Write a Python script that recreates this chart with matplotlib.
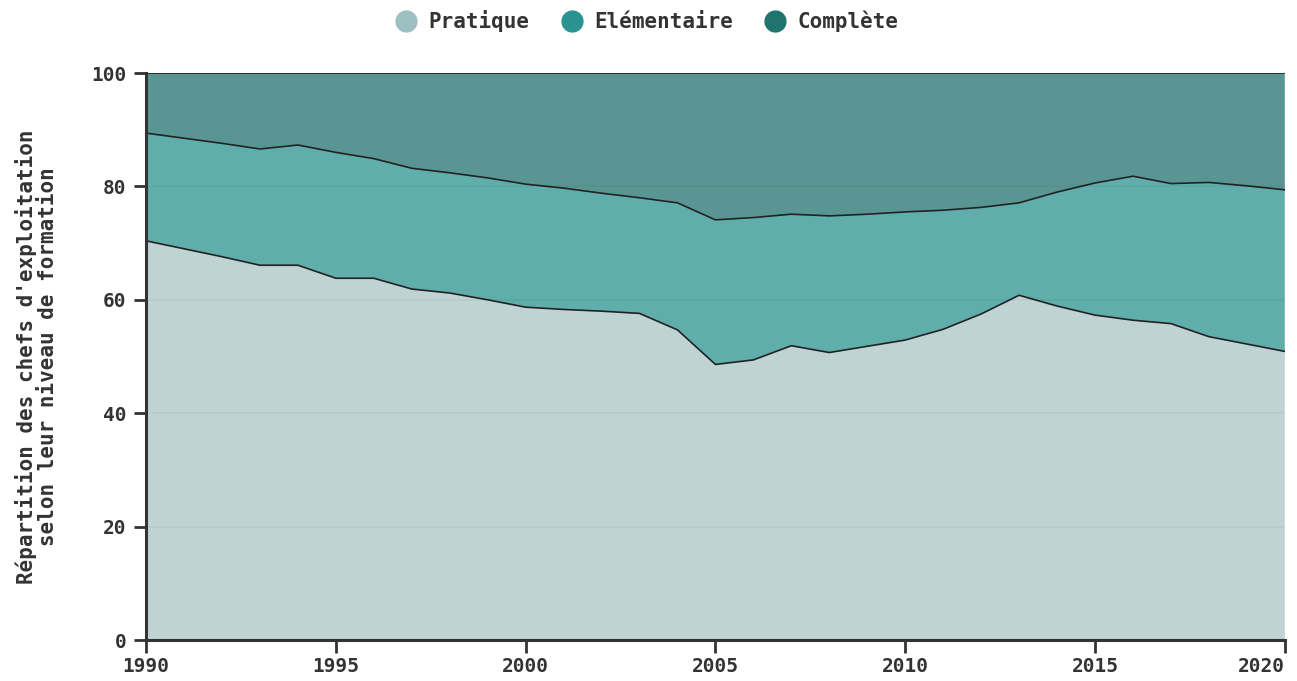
import numpy as np
import matplotlib
matplotlib.use('Agg')
import matplotlib.pyplot as plt
from matplotlib.lines import Line2D

# data (share in %)
years = list(range(1990, 2021))
pratique = [70.4, 69.0, 67.6, 66.1, 66.1, 63.8, 63.8, 61.9, 61.2, 60.0,
            58.7, 58.3, 58.0, 57.6, 54.7, 48.6, 49.4, 51.9, 50.7, 51.8,
            52.9, 54.8, 57.5, 60.8, 58.9, 57.3, 56.4, 55.8, 53.5, 52.2, 50.9]
prat_elem = [89.4, 88.5, 87.6, 86.6, 87.3, 86.0, 84.9, 83.2, 82.4, 81.5,
             80.4, 79.7, 78.8, 78.0, 77.1, 74.1, 74.5, 75.1, 74.8, 75.1,
             75.5, 75.8, 76.3, 77.1, 79.0, 80.6, 81.8, 80.5, 80.7, 80.1, 79.4]
elementaire = [b - a for a, b in zip(pratique, prat_elem)]
complete = [100 - b for b in prat_elem]

names = ['Pratique', 'Elémentaire', 'Complète']
colors = ['#9dc0c0', '#2a9391', '#21736f']
fills = ['#a8c5c3', '#2a9391', '#21736f']
series = [pratique, elementaire, complete]

mono = 'DejaVu Sans Mono'
dark = '#333333'

fig = plt.figure(figsize=(12.97, 6.81), dpi=100)
ax = fig.add_axes([0.1126, 0.0602, 0.878, 0.8326])

ax.stackplot(years, *series, colors=fills, alpha=0.75, linewidth=0)
cum = np.cumsum(np.array(series), axis=0)
for row in cum:
  ax.plot(years, row, color='#222222', lw=1.2)

ax.set_xlim(1990, 2020)
ax.set_ylim(0, 100)
ax.set_xticks(range(1990, 2021, 5))
ax.set_yticks(range(0, 101, 20))
ax.grid(axis='y', color='#000000', alpha=0.03, lw=1.5)
ax.set_axisbelow(False)

for s in ['top', 'right']:
  ax.spines[s].set_visible(False)
for s in ['left', 'bottom']:
  ax.spines[s].set_color(dark)
  ax.spines[s].set_linewidth(2.2)
ax.tick_params(axis='both', length=9, width=2, color=dark, labelcolor=dark)
ax.tick_params(axis='y', pad=5)
for lab in ax.get_xticklabels() + ax.get_yticklabels():
  lab.set_fontfamily(mono)
  lab.set_fontweight('bold')
  lab.set_fontsize(14)
ax.get_xticklabels()[-1].set_ha('right')

ax.set_ylabel("Répartition des chefs d'exploitation\nselon leur niveau de formation",
              fontfamily=mono, fontsize=15, fontweight='bold', color=dark,
              linespacing=1.1)
ax.yaxis.set_label_coords(-0.077, 0.5)

handles = [Line2D([], [], marker='o', ls='', markersize=15, color=c) for c in colors]
fig.legend(handles, names, loc='upper center', bbox_to_anchor=(0.495, 1.013), ncol=3,
           frameon=False, handletextpad=0.1, columnspacing=1.0,
           prop={'family': mono, 'weight': 'bold', 'size': 15},
           labelcolor=dark)

fig.savefig('out.png', dpi=100)
